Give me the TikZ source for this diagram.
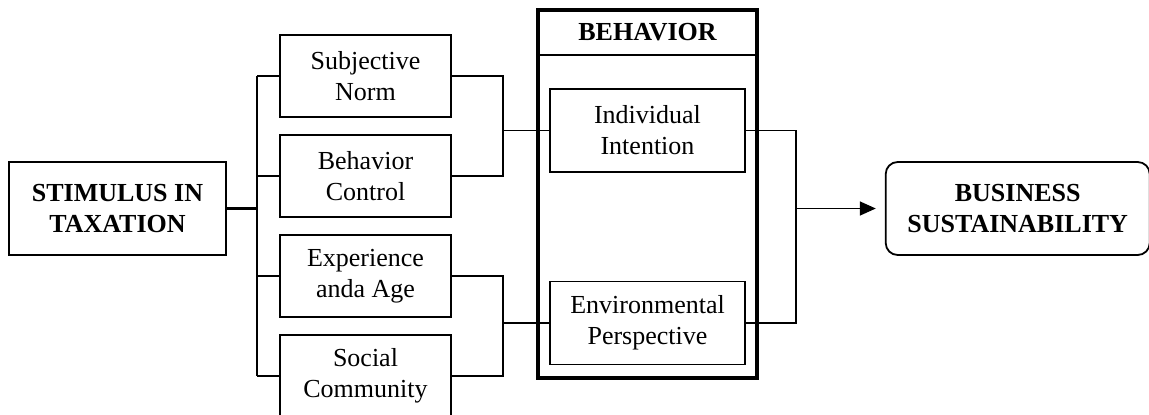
\documentclass[tikz,border=0pt]{standalone}
\usepackage{fontspec}
\setmainfont{Liberation Serif}
\usepackage{tikz}
\usetikzlibrary{positioning,calc,arrows.meta}

\tikzset{
	mainbox/.style={draw, line width=1pt, minimum width=108.5pt, minimum height=46.5pt, align=center, font=\fontsize{13}{15.5}\selectfont\bfseries},
	factor/.style={draw, line width=1pt, minimum width=85.5pt, minimum height=41pt, align=center},
	behbox/.style={draw, line width=1.8pt, minimum width=109.5pt, minimum height=184pt},
	inbox/.style={draw, line width=0.8pt, minimum width=97.5pt, minimum height=41.5pt, align=center},
	endbox/.style={draw, line width=0.9pt, rounded corners=6pt, minimum width=132pt, minimum height=46.5pt, align=center, font=\fontsize{13}{15.5}\selectfont\bfseries},
	link/.style={line width=0.8pt},
	arr/.style={link, -{Triangle[length=8pt,width=7pt]}, shorten >=4.5pt}
}

\begin{document}
\begin{tikzpicture}[x=0.5pt, y=-0.5pt, font=\fontsize{13}{15.5}\selectfont]
	\useasboundingbox (0,0) rectangle (1149,414);

	\node[mainbox] (stim) at (117.5,208.5) {STIMULUS IN\\TAXATION};
	\node[factor] (subj) at (365.5,76) {Subjective\\Norm};
	\node[factor, below=8pt of subj] (ctrl) {Behavior\\Control};
	\node[factor, below=8pt of ctrl] (exp) {Experience\\anda Age};
	\node[factor, below=8pt of exp] (soc) {Social\\Community};

	\node[behbox] (beh) at (647.5,194) {};
	\node[below=0pt of beh.north, minimum height=23pt, font=\fontsize{13}{15.5}\selectfont\bfseries] (behtitle) {BEHAVIOR};
	\draw[line width=0.6pt] (behtitle.south -| beh.west) -- (behtitle.south -| beh.east);
	\node[inbox, below=16.5pt of behtitle] (indiv) {Individual\\Intention};
	\node[inbox, below=54pt of indiv] (env) {Environmental\\Perspective};

	\node[endbox, anchor=west] (biz) at ($(beh.east |- stim)+(63pt,0)$) {BUSINESS\\SUSTAINABILITY};

	% stimulus to factors
	\coordinate[right=15pt of stim.east] (busL);
	\draw[link, line width=1.1pt] (stim.east) -- (busL);
	\draw[link] (busL |- subj.west) -- (busL |- soc.west);
	\foreach \n in {subj,ctrl,exp,soc}
		\draw[link] (busL |- \n.west) -- (\n.west);

	% factors to behavior
	\coordinate[right=25.5pt of subj.east] (busA);
	\draw[link] (subj.east) -- (busA) |- (ctrl.east);
	\draw[link] (indiv.west -| busA) -- (indiv.west);
	\coordinate[right=25.5pt of exp.east] (busB);
	\draw[link] (exp.east) -- (busB) |- (soc.east);
	\draw[link] (env.west -| busB) -- (env.west);

	% behavior to sustainability
	\coordinate[right=25pt of indiv.east] (busR);
	\draw[link] (indiv.east) -- (busR) |- (env.east);
	\draw[arr] (busR |- biz.west) -- (biz.west);
\end{tikzpicture}
\end{document}
